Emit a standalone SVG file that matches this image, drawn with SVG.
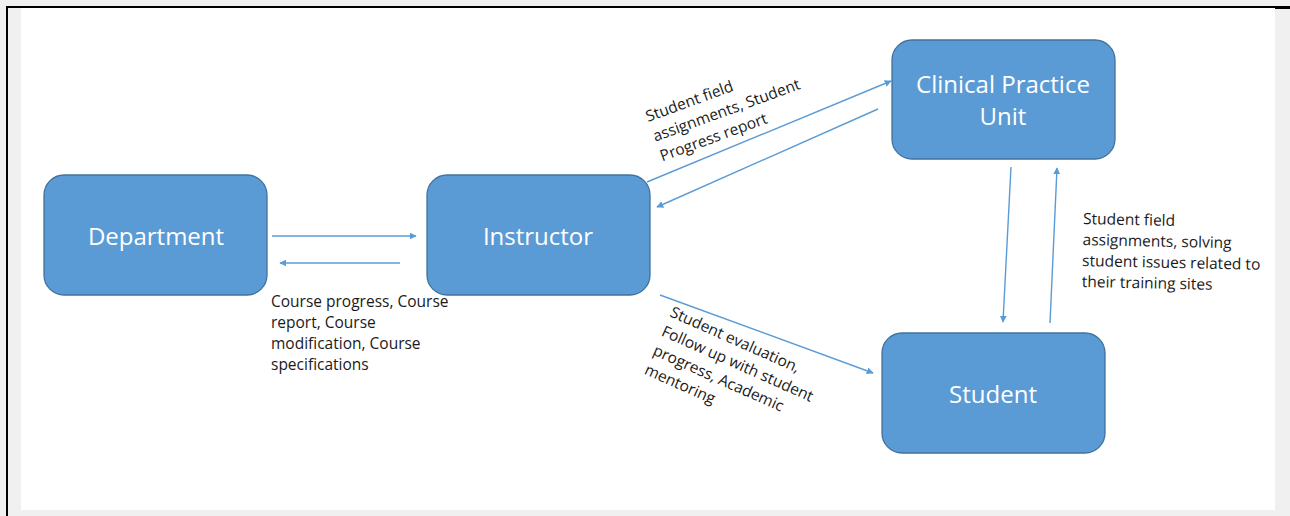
<svg xmlns="http://www.w3.org/2000/svg" width="1290" height="516" viewBox="0 0 1290 516">
<defs>
<style>
.node rect{fill:#5b9bd5;stroke:#41719c;stroke-width:1.3}
.node text{fill:#ffffff;font-family:"Open Sans","Liberation Sans",sans-serif;font-size:24px;text-anchor:middle}
.lbl{fill:#1a1a1a;font-family:"Open Sans","Liberation Sans",sans-serif;font-size:15.5px}
.conn line{stroke:#5b9bd5;stroke-width:1.4;fill:none;marker-end:url(#ah)}
</style>
<marker id="ah" viewBox="0 0 10 10" refX="9" refY="5" markerWidth="7" markerHeight="7" orient="auto" markerUnits="userSpaceOnUse">
<path d="M0,0 L10,5 L0,10 z" fill="#5b9bd5"/>
</marker>
</defs>
<rect x="0" y="0" width="1290" height="516" fill="#f0f0f0"/>
<rect x="21" y="8" width="1254" height="502" fill="#ffffff"/>
<line x1="6" y1="7" x2="1290" y2="7" stroke="#000" stroke-width="2"/>
<line x1="1275" y1="7.5" x2="1290" y2="7.5" stroke="#000" stroke-width="3"/>
<line x1="7" y1="6" x2="7" y2="516" stroke="#000" stroke-width="2"/>

<g id="connectors" class="conn">
<line x1="272" y1="236" x2="416" y2="236"/>
<line x1="400" y1="263" x2="280" y2="263"/>
<line x1="647" y1="182" x2="891" y2="81"/>
<line x1="878" y1="109" x2="657" y2="207"/>
<line x1="660" y1="295" x2="873" y2="373"/>
<line x1="1011" y1="167" x2="1003" y2="322"/>
<line x1="1050" y1="323" x2="1057" y2="168"/>
</g>

<g id="department" class="node">
<rect x="44" y="175" width="223" height="120" rx="20"/>
<text x="156" y="245">Department</text>
</g>
<g id="instructor" class="node">
<rect x="427" y="175" width="223" height="120" rx="20"/>
<text x="538" y="245">Instructor</text>
</g>
<g id="clinical-practice-unit" class="node">
<rect x="892" y="40" width="223" height="119" rx="20"/>
<text x="1003" y="93">Clinical Practice</text>
<text x="1003" y="125">Unit</text>
</g>
<g id="student" class="node">
<rect x="882" y="333" width="223" height="120" rx="20"/>
<text x="993" y="403">Student</text>
</g>

<g id="labels">
<text class="lbl" x="271" y="307">Course progress, Course</text>
<text class="lbl" x="271" y="328">report, Course</text>
<text class="lbl" x="271" y="349">modification, Course</text>
<text class="lbl" x="271" y="370">specifications</text>

<g transform="translate(648,122) rotate(-20)">
<text class="lbl" x="0" y="0">Student field</text>
<text class="lbl" x="0" y="21">assignments, Student</text>
<text class="lbl" x="0" y="42">Progress report</text>
</g>

<g transform="translate(669,316) rotate(24)">
<text class="lbl" x="0" y="0">Student evaluation,</text>
<text class="lbl" x="0" y="21">Follow up with student</text>
<text class="lbl" x="0" y="42">progress, Academic</text>
<text class="lbl" x="0" y="63">mentoring</text>
</g>

<g transform="translate(1083,224) rotate(1.2)">
<text class="lbl" x="0" y="0">Student field</text>
<text class="lbl" x="0" y="21">assignments, solving</text>
<text class="lbl" x="0" y="42">student issues related to</text>
<text class="lbl" x="0" y="63">their training sites</text>
</g>
</g>
</svg>
